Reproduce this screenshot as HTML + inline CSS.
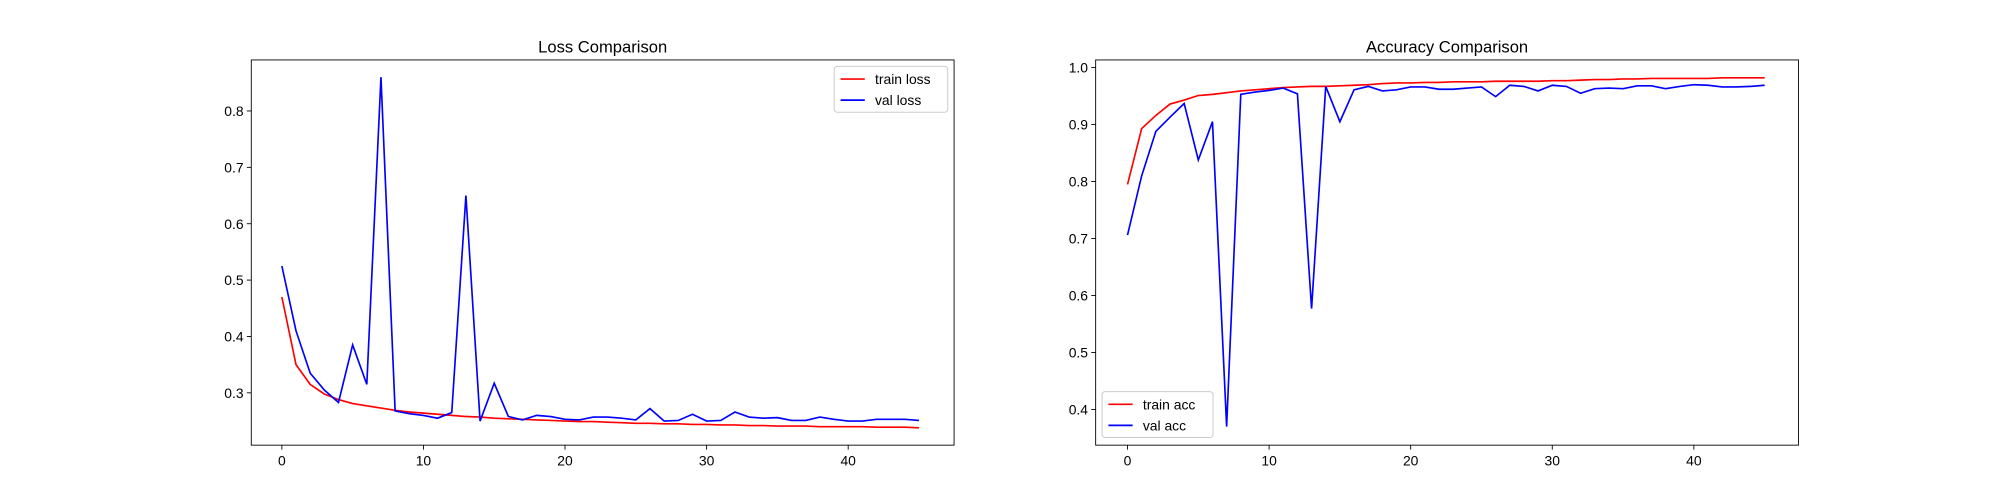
<!DOCTYPE html>
<html><head><meta charset="utf-8"><style>
body{margin:0;background:#fff;}
svg{display:block;font-family:"Liberation Sans","DejaVu Sans",sans-serif;}
</style></head><body>
<svg width="2000" height="500" viewBox="0 0 2000 500"><g id="fig" transform="scale(1.27551)"></g></svg>
<script>
const epochs = Array.from({length:46},(_,i)=>i);
const trainLoss = [0.47,0.35,0.315,0.298,0.288,0.281,0.277,0.273,0.269,0.266,0.264,0.262,0.26,0.258,0.257,0.255,0.254,0.253,0.252,0.251,0.25,0.249,0.249,0.248,0.247,0.246,0.246,0.245,0.245,0.244,0.244,0.243,0.243,0.242,0.242,0.241,0.241,0.241,0.240,0.240,0.240,0.240,0.239,0.239,0.239,0.238];
const valLoss = [0.525,0.41,0.335,0.305,0.283,0.385,0.315,0.86,0.268,0.263,0.26,0.255,0.265,0.65,0.25,0.317,0.258,0.252,0.26,0.258,0.253,0.252,0.257,0.257,0.255,0.252,0.272,0.25,0.251,0.262,0.25,0.251,0.266,0.257,0.255,0.256,0.251,0.251,0.257,0.253,0.25,0.25,0.253,0.253,0.253,0.251];
const trainAcc = [0.795,0.893,0.916,0.936,0.943,0.951,0.953,0.956,0.959,0.961,0.963,0.965,0.966,0.967,0.967,0.968,0.969,0.970,0.972,0.973,0.973,0.974,0.974,0.975,0.975,0.975,0.976,0.976,0.976,0.976,0.977,0.977,0.978,0.979,0.979,0.980,0.980,0.981,0.981,0.981,0.981,0.981,0.982,0.982,0.982,0.982];
const valAcc = [0.706,0.81,0.888,0.913,0.937,0.838,0.905,0.37,0.953,0.957,0.96,0.964,0.954,0.577,0.967,0.905,0.961,0.967,0.959,0.961,0.966,0.966,0.962,0.962,0.964,0.966,0.949,0.969,0.967,0.959,0.969,0.967,0.955,0.963,0.964,0.963,0.968,0.968,0.963,0.967,0.97,0.969,0.966,0.966,0.967,0.969];
const xTicks = [0,10,20,30,40];
const lossTicks = [0.3,0.4,0.5,0.6,0.7,0.8];
const accTicks = [0.4,0.5,0.6,0.7,0.8,0.9,1.0];

const NS="http://www.w3.org/2000/svg";
const svg=document.getElementById('fig');
function mk(tag,attrs,parent){const e=document.createElementNS(NS,tag);for(const k in attrs)e.setAttribute(k,attrs[k]);(parent||svg).appendChild(e);return e;}

function panel(cfg){
  const {x0,x1,y0,y1,xmin,xmax,ymin,ymax,title,yticks,series,legend,name}=cfg;
  const g=mk('g',{});
  
  
  const sx=v=>x0+(v-xmin)/(xmax-xmin)*(x1-x0);
  const sy=v=>y1-(v-ymin)/(ymax-ymin)*(y1-y0);
  const t=mk('text',{x:(x0+x1)/2,y:y0-6,'text-anchor':'middle','font-size':13,fill:'#000'},g);
  t.textContent=title;
  
  
  xTicks.forEach(v=>{
    const X=sx(v);
    mk('line',{x1:X,x2:X,y1:y1,y2:y1+3.5,stroke:'#000','stroke-width':0.7},g);
    const l=mk('text',{x:X,y:y1+16,'text-anchor':'middle','font-size':10.9},g);
    l.textContent=v;
    
    
  });
  yticks.forEach(v=>{
    const Y=sy(v);
    mk('line',{x1:x0-3.5,x2:x0,y1:Y,y2:Y,stroke:'#000','stroke-width':0.7},g);
    const l=mk('text',{x:x0-6,y:Y+4,'text-anchor':'end','font-size':10.9},g);
    l.textContent=v.toFixed(1);
    
    
  });
  series.forEach(s=>{
    const p=mk('polyline',{points:s.data.map((v,i)=>sx(epochs[i])+','+sy(v)).join(' '),fill:'none',stroke:s.color,'stroke-width':1.3},g);
    
    
  });
  mk('rect',{x:x0,y:y0,width:x1-x0,height:y1-y0,fill:'none',stroke:'#000','stroke-width':0.7},g);
  const lg=mk('g',{},g);
  
  
  mk('rect',{x:legend.x,y:legend.y,width:legend.w,height:36,rx:2.5,fill:'#fff','fill-opacity':0.8,stroke:'#ccc','stroke-width':0.8},lg);
  series.forEach((s,i)=>{
    const yy=legend.y+10+i*16.5;
    mk('line',{x1:legend.x+5,x2:legend.x+24,y1:yy,y2:yy,stroke:s.color,'stroke-width':1.3},lg);
    const l=mk('text',{x:legend.x+32,y:yy+4,'font-size':10.9},lg);
    l.textContent=s.label;
    
    
  });
}
panel({name:'loss-chart',x0:197,x1:748,y0:47,y1:349,xmin:-2.16,xmax:47.48,ymin:0.2072,ymax:0.8905,title:'Loss Comparison',yticks:lossTicks,
  series:[{data:trainLoss,color:'#ff0000',label:'train loss',name:'train-loss-line'},{data:valLoss,color:'#0000ff',label:'val loss',name:'val-loss-line'}],
  legend:{x:654,y:52,w:89}});
panel({name:'accuracy-chart',x0:859,x1:1410,y0:47,y1:349,xmin:-2.25,xmax:47.39,ymin:0.3374,ymax:1.0134,title:'Accuracy Comparison',yticks:accTicks,
  series:[{data:trainAcc,color:'#ff0000',label:'train acc',name:'train-acc-line'},{data:valAcc,color:'#0000ff',label:'val acc',name:'val-acc-line'}],
  legend:{x:864,y:307,w:87}});
</script>
</body></html>
